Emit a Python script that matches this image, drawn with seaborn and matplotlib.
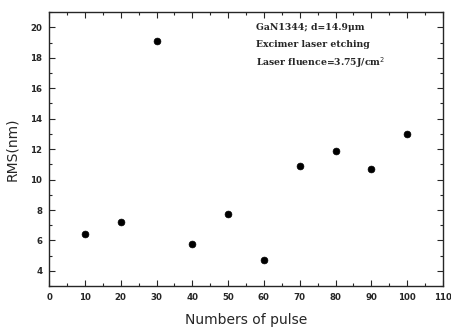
import matplotlib
matplotlib.use("Agg")
import matplotlib.pyplot as plt
import seaborn as sns
import pandas as pd
from matplotlib.ticker import MultipleLocator

# 数据
pulses = [10, 20, 30, 40, 50, 60, 70, 80, 90, 100]
rms_nm = [6.4, 7.2, 19.1, 5.75, 7.75, 4.7, 10.9, 11.9, 10.7, 13.0]
x_ticks = [0, 10, 20, 30, 40, 50, 60, 70, 80, 90, 100, 110]
y_ticks = [4, 6, 8, 10, 12, 14, 16, 18, 20]
notes = ["GaN1344; d=14.9\u03bcm", "Excimer laser etching",
         "Laser fluence=3.75J/cm$^2$"]

df = pd.DataFrame({"pulse": pulses, "rms": rms_nm})

sns.set_style("ticks")
plt.rcParams['font.family'] = ['DejaVu Sans']

fig = plt.figure(figsize=(4.51, 3.27), dpi=100)
ax = fig.add_axes([0.109, 0.125, 0.873, 0.838])

sns.scatterplot(data=df, x="pulse", y="rms", ax=ax, color="black",
                s=24, edgecolor="black", linewidth=0.5, legend=False)

ax.set_xlim(0, 110)
ax.set_ylim(3, 21)
ax.set_xticks(x_ticks)
ax.set_yticks(y_ticks)
ax.xaxis.set_minor_locator(MultipleLocator(5))
ax.yaxis.set_minor_locator(MultipleLocator(1))
ax.tick_params(which="both", direction="in", top=True, right=True,
               labelsize=6.2, width=0.8)
ax.tick_params(which="major", length=4, pad=5)
ax.tick_params(which="minor", length=2)
for lbl in ax.get_xticklabels() + ax.get_yticklabels():
    lbl.set_fontweight("bold")
for sp in ax.spines.values():
    sp.set_linewidth(1.0)

ax.set_xlabel("Numbers of pulse", fontsize=10, labelpad=8)
ax.set_ylabel("RMS(nm)", fontsize=10, labelpad=8)

for i, t in enumerate(notes):
    ax.text(0.525, 0.945 - i * 0.064, t, transform=ax.transAxes,
            fontsize=6.7, fontweight="bold", family="DejaVu Serif",
            va="center", ha="left")

fig.savefig("out.png", dpi=100)
plt.close(fig)
